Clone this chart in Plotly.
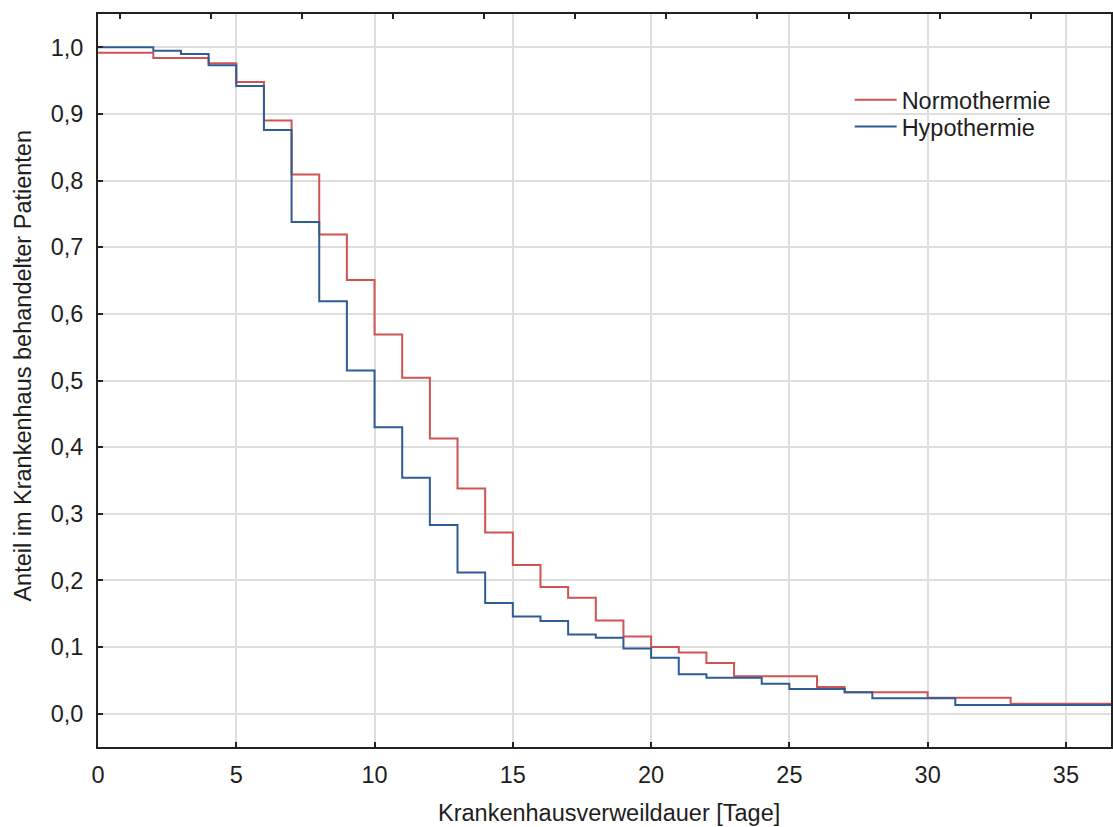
import plotly.graph_objects as go

# Normothermie (red) – Kaplan-Meier style steps: day where value starts, value
normo_days = [0, 2, 4, 5, 6, 7, 8, 9, 10, 11, 12, 13, 14, 15, 16, 17, 18, 19, 20,
              21, 22, 23, 26, 27, 30, 33, 37]
normo_vals = [0.992, 0.984, 0.976, 0.948, 0.890, 0.809, 0.719, 0.651, 0.569, 0.504,
              0.413, 0.338, 0.272, 0.223, 0.190, 0.174, 0.140, 0.116, 0.100, 0.092,
              0.076, 0.056, 0.040, 0.032, 0.024, 0.015, 0.015]

# Hypothermie (blue)
hypo_days = [0, 2, 3, 4, 5, 6, 7, 8, 9, 10, 11, 12, 13, 14, 15, 16, 17, 18, 19, 20,
             21, 22, 24, 25, 27, 28, 31, 37]
hypo_vals = [1.000, 0.995, 0.990, 0.973, 0.942, 0.876, 0.738, 0.619, 0.515, 0.430,
             0.354, 0.283, 0.212, 0.166, 0.146, 0.139, 0.119, 0.114, 0.098, 0.084,
             0.059, 0.054, 0.045, 0.037, 0.032, 0.023, 0.013, 0.013]

x_ticks = [0, 5, 10, 15, 20, 25, 30, 35]
y_ticks = [0.0, 0.1, 0.2, 0.3, 0.4, 0.5, 0.6, 0.7, 0.8, 0.9, 1.0]

RED = "#d05353"
BLUE = "#2f5b96"
FONT = "Liberation Sans, Arial, sans-serif"
FS = 23.5
TXT = "#1e1e1e"

fig = go.Figure()
fig.add_trace(go.Scatter(x=normo_days, y=normo_vals, mode="lines", line_shape="hv",
                         line=dict(color=RED, width=2), name="Normothermie",
                         legend="legend"))
fig.add_trace(go.Scatter(x=hypo_days, y=hypo_vals, mode="lines", line_shape="hv",
                         line=dict(color=BLUE, width=2), name="Hypothermie",
                         legend="legend2"))
# helper trace so the top (secondary) axis with its ticks gets drawn
fig.add_trace(go.Scatter(x=[0], y=[None], xaxis="x2", mode="lines",
                         showlegend=False, hoverinfo="skip"))

XR = [0, 36.63]
leg_common = dict(xanchor="left", yanchor="middle", bgcolor="rgba(0,0,0,0)",
                  borderwidth=0, itemwidth=42,
                  font=dict(family=FONT, size=FS, color=TXT))
fig.update_layout(
    width=1113, height=827,
    margin=dict(l=98, r=0, t=14, b=80),
    paper_bgcolor="white", plot_bgcolor="white",
    separators=",.",
    font=dict(family=FONT, size=FS, color=TXT),
    showlegend=True,
    legend=dict(x=0.742, y=0.8827, **leg_common),
    legend2=dict(x=0.742, y=0.8463, **leg_common),
    xaxis=dict(range=XR, tickvals=x_ticks, ticks="inside", ticklen=5,
               tickwidth=2, tickcolor="#222",
               showline=True, linecolor="#222", linewidth=2, mirror=True,
               showgrid=True, gridcolor="#dedede", gridwidth=2,
               zeroline=False, ticklabelstandoff=6,
               tickfont=dict(family=FONT, size=FS, color=TXT)),
    xaxis2=dict(range=XR, overlaying="x", side="top", tickmode="linear",
                tick0=0.78, dtick=3.295, ticks="inside", ticklen=5, tickwidth=2,
                tickcolor="#222", showticklabels=False, showgrid=False,
                showline=False, zeroline=False),
    yaxis=dict(range=[-0.05, 1.05], tickvals=y_ticks, tickformat=".1f",
               ticks="inside", ticklen=5, tickwidth=2, tickcolor="#222",
               showline=True, linecolor="#222", linewidth=2, mirror=True,
               showgrid=True, gridcolor="#dedede", gridwidth=2,
               zeroline=False, ticklabelstandoff=8,
               tickfont=dict(family=FONT, size=FS, color=TXT)),
    annotations=[
        dict(text="Krankenhausverweildauer [Tage]", xref="paper", yref="paper",
             x=0.5044, y=-0.090, xanchor="center", yanchor="middle",
             showarrow=False, font=dict(family=FONT, size=FS, color=TXT)),
        dict(text="Anteil im Krankenhaus behandelter Patienten", xref="paper",
             yref="paper", x=-0.0739, y=0.5205, xanchor="center", yanchor="middle",
             textangle=-90, showarrow=False,
             font=dict(family=FONT, size=FS, color=TXT)),
    ],
)

fig.write_html("out.html", config={"displayModeBar": False},
               post_script="document.body.style.margin='0';")
